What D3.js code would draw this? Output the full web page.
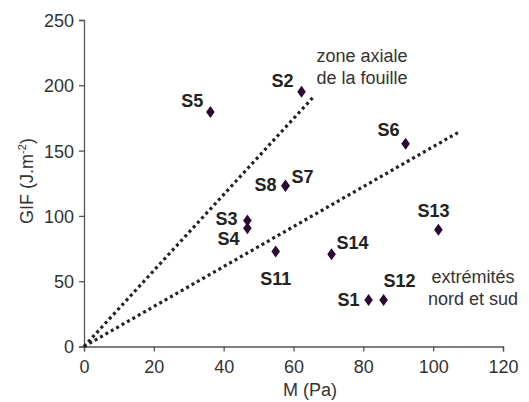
<!DOCTYPE html>
<html><head><meta charset="utf-8">
<script src="https://cdn.jsdelivr.net/npm/d3@7"></script>
<style>
body{margin:0;background:#fff;}
text{font-family:"Liberation Sans",Arial,sans-serif;}
</style></head>
<body><svg id="c" width="529" height="402"></svg>
<script>
// Data
const names = ["S1","S2","S3","S4","S5","S6","S7","S8","S11","S12","S13","S14"];
const mValues = [81.5, 62.3, 46.8, 46.8, 36.2, 92.1, 57.7, 57.7, 54.9, 85.8, 101.5, 70.9];
const gifValues = [35.7, 195, 96.4, 90.6, 179.5, 155.3, 123, 123, 72.7, 35.7, 89.3, 70.7];
const trendNames = ["zone axiale", "extrémités"];
const trendEndM = [65.5, 107.2];
const trendEndGIF = [190.5, 164];
const xTicks = [0, 20, 40, 60, 80, 100, 120];
const yTicks = [0, 50, 100, 150, 200, 250];

// Layout (label offsets relative to each marker, in px)
const labelLayout = {
  S1:{dx:-9,dy:6,a:"end"}, S2:{dx:-8,dy:-5,a:"end"}, S3:{dx:-10,dy:4,a:"end"},
  S4:{dx:-8,dy:17,a:"end"}, S5:{dx:-7,dy:-5,a:"end"}, S6:{dx:-6,dy:-8,a:"end"},
  S7:{dx:6,dy:-3,a:"start"}, S8:{dx:-9,dy:5,a:"end"}, S11:{dx:0,dy:33,a:"middle"},
  S12:{dx:0,dy:-13,a:"start"}, S13:{dx:-5,dy:-13,a:"middle"}, S14:{dx:5,dy:-5,a:"start"}
};

const svg = d3.select("#c");
const x = d3.scaleLinear().domain([0,120]).range([84,503]);
const y = d3.scaleLinear().domain([0,250]).range([346.5,20]);
const FS = 18;

// axes
const xAxis = svg.append("g").attr("transform",`translate(0,${y(0)})`)
  .call(d3.axisBottom(x).tickValues(xTicks).tickSize(5).tickPadding(4));
const yAxis = svg.append("g").attr("transform",`translate(${x(0)},0)`)
  .call(d3.axisLeft(y).tickValues(yTicks).tickSize(5).tickPadding(5));
[xAxis,yAxis].forEach(g=>{
  g.select(".domain").attr("stroke","#555").attr("stroke-width",1.3);
  g.selectAll(".tick line").attr("stroke","#555").attr("stroke-width",1.3);
  g.selectAll(".tick text").attr("fill","#333").style("font-size",FS+"px")
   .style("font-family","'Liberation Sans',Arial,sans-serif");
});
xAxis.selectAll(".tick text").attr("dy","0.95em");
yAxis.selectAll(".tick text").attr("dy","0.36em");

// axis titles
svg.append("text").attr("x",310).attr("y",396).attr("text-anchor","middle")
  .attr("fill","#333").style("font-size",FS+"px").text("M (Pa)");
const yt = svg.append("text").attr("transform","translate(33,181) rotate(-90)")
  .attr("text-anchor","middle").attr("fill","#333").style("font-size",FS+"px");
yt.append("tspan").text("GIF (J.m");
yt.append("tspan").attr("dy",-7).style("font-size","11px").text("-2");
yt.append("tspan").attr("dy",7).text(")");

// trend lines
svg.append("g").selectAll("line").data(trendNames).join("line")
  .attr("x1",x(0)).attr("y1",y(0))
  .attr("x2",(d,i)=>x(trendEndM[i])).attr("y2",(d,i)=>y(trendEndGIF[i]))
  .attr("stroke","#222").attr("stroke-width",3.2).attr("stroke-dasharray","3,3.2");

// markers
const pts = names.map((n,i)=>({n, m:mValues[i], g:gifValues[i]}));
svg.append("g").selectAll("path").data(pts).join("path")
  .attr("transform",d=>`translate(${x(d.m)},${y(d.g)})`)
  .attr("d","M0,-6L4.3,0L0,6L-4.3,0Z").attr("fill","#2b0b35");

// point labels
svg.append("g").selectAll("text").data(pts).join("text")
  .attr("x",d=>x(d.m)+labelLayout[d.n].dx).attr("y",d=>y(d.g)+labelLayout[d.n].dy)
  .attr("text-anchor",d=>labelLayout[d.n].a)
  .attr("fill","#222").style("font-size",FS+"px").style("font-weight","bold").text(d=>d.n);

// annotations
const ann = [
  {lines:["zone axiale","de la fouille"], cx:362, by:62},
  {lines:["extrémités","nord et sud"], cx:473, by:283}
];
ann.forEach(a=>{
  a.lines.forEach((t,i)=>{
    svg.append("text").attr("x",a.cx).attr("y",a.by+i*22).attr("text-anchor","middle")
      .attr("fill","#333").style("font-size",FS+"px").text(t);
  });
});
</script></body></html>
